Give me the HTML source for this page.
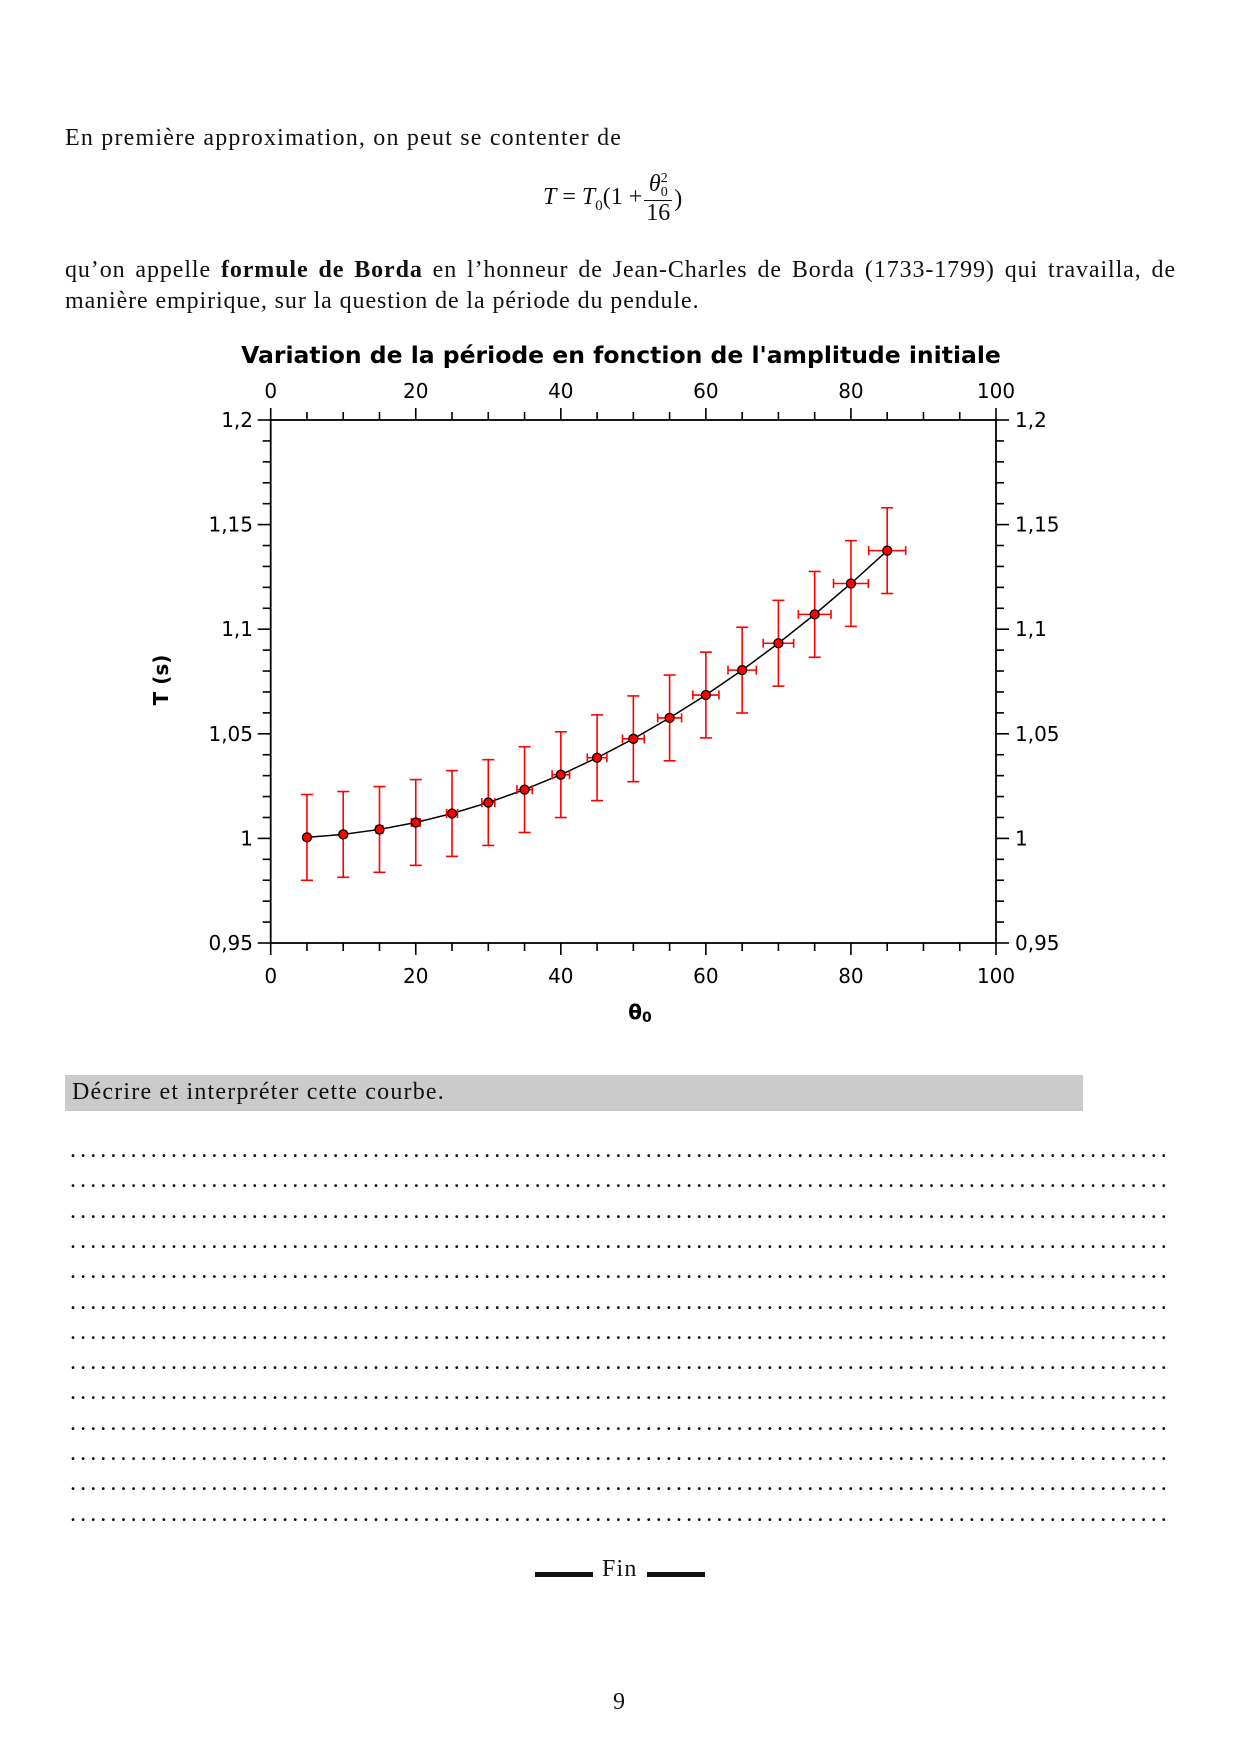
<!DOCTYPE html>
<html><head><meta charset="utf-8"><style>
body{margin:0;background:#fff;}
.p{position:absolute;font-family:"Liberation Serif",serif;font-size:24px;letter-spacing:1.2px;color:#111;}
</style></head><body>
<div style="position:relative;width:1241px;height:1756px;overflow:hidden;">
<div class="p" style="left:65px;top:125px;">En première approximation, on peut se contenter de</div>
<div class="p" style="left:543px;top:172px;display:flex;align-items:center;letter-spacing:0;">
<span><i>T</i> = <i>T</i><sub style="font-size:15px">0</sub>(1 + </span>
<span style="display:inline-flex;flex-direction:column;align-items:center;margin:0 2px;line-height:1.05;"><span><i>θ</i><span style="display:inline-flex;flex-direction:column;font-size:14px;line-height:1;vertical-align:top;"><span>2</span><span>0</span></span></span><span style="border-top:1px solid #111;padding:0 2px;">16</span></span>
<span>)</span></div>
<div class="p" style="left:65px;top:255px;width:1111px;line-height:31px;letter-spacing:0.9px;">
<div style="text-align:justify;text-align-last:justify;">qu’on appelle <b>formule de Borda</b> en l’honneur de Jean-Charles de Borda (1733-1799) qui travailla, de</div>
<div>manière empirique, sur la question de la période du pendule.</div></div>

<svg style="position:absolute;left:0;top:0" width="1241" height="1756" font-family="DejaVu Sans, sans-serif">
<text x="621" y="363" font-size="23.5" font-weight="bold" text-anchor="middle">Variation de la période en fonction de l'amplitude initiale</text>
<rect x="270.7" y="420" width="725.3" height="523" fill="none" stroke="#000" stroke-width="1.8"/>
<g id="ticks" stroke="#000" stroke-width="1.6"></g>
<g id="labels" font-size="20"></g>
<text x="640" y="1019" font-size="20" font-weight="bold" text-anchor="middle">θ<tspan font-size="14" dy="3">0</tspan></text>
<text transform="translate(168,680) rotate(-90)" font-size="20" font-weight="bold" text-anchor="middle">T (s)</text>
<g id="data"></g>
</svg>

<div style="position:absolute;left:65px;top:1075px;width:1018px;height:36px;background:#cbcbcb;"></div>
<div class="p" style="left:72px;top:1079px;">Décrire et interpréter cette courbe.</div>
<div id="dots"></div>
<div style="position:absolute;left:535px;top:1572px;width:58px;height:5px;background:#111;"></div>
<div class="p" style="left:602px;top:1556px;">Fin</div>
<div style="position:absolute;left:647px;top:1572px;width:58px;height:5px;background:#111;"></div>
<div class="p" style="left:613px;top:1689px;">9</div>
</div>
<script>
var X0=270.7,XS=7.253,Y0=943,YS=2092;
function px(x){return X0+x*XS}function py(y){return Y0-(y-0.95)*YS}
var t='',l='';
for(var x=0;x<=100;x+=5){var m=x%20==0,L=m?12:8,X=px(x);
t+=`<line x1="${X}" y1="420" x2="${X}" y2="${420-L}"/><line x1="${X}" y1="943" x2="${X}" y2="${943+L}"/>`;
if(m){l+=`<text x="${X}" y="398" text-anchor="middle">${x}</text><text x="${X}" y="983" text-anchor="middle">${x}</text>`;}}
for(var i=0;i<=25;i++){var y=0.95+i*0.01,m=i%5==0,L=m?13:8,Y=py(y);
t+=`<line x1="${X0}" y1="${Y}" x2="${X0-L}" y2="${Y}"/><line x1="996" y1="${Y}" x2="${996+L}" y2="${Y}"/>`;
if(m){var s=(Math.round(y*100)/100).toString().replace('.',',');l+=`<text x="253" y="${Y+7}" text-anchor="end">${s}</text><text x="1015" y="${Y+7}">${s}</text>`;}}
document.getElementById('ticks').innerHTML=t;document.getElementById('labels').innerHTML=l;
var d='',pts=[];
for(var a=5;a<=85;a+=5){var r=a*Math.PI/180,T=1+r*r/16;pts.push([px(a),py(T),a,T]);}
d+=`<polyline fill="none" stroke="#000" stroke-width="1.5" points="${pts.map(p=>p[0]+','+p[1]).join(' ')}"/>`;
pts.forEach(p=>{var X=p[0],Y=p[1],ey=0.0205*YS,ex=0.03*p[2]*XS;
d+=`<g stroke="red" stroke-width="1.6"><line x1="${X}" y1="${Y-ey}" x2="${X}" y2="${Y+ey}"/><line x1="${X-6}" y1="${Y-ey}" x2="${X+6}" y2="${Y-ey}"/><line x1="${X-6}" y1="${Y+ey}" x2="${X+6}" y2="${Y+ey}"/>`;
if(ex>2)d+=`<line x1="${X-ex}" y1="${Y}" x2="${X+ex}" y2="${Y}"/><line x1="${X-ex}" y1="${Y-4.5}" x2="${X-ex}" y2="${Y+4.5}"/><line x1="${X+ex}" y1="${Y-4.5}" x2="${X+ex}" y2="${Y+4.5}"/>`;
d+=`</g><circle cx="${X}" cy="${Y}" r="4.5" fill="red" stroke="#000" stroke-width="1.3"/>`;});
document.getElementById('data').innerHTML=d;
var h='';for(var k=0;k<13;k++){h+=`<div class="p" style="left:70px;top:${1137+k*30.3}px;width:1100px;overflow:hidden;white-space:nowrap;letter-spacing:4.1px;">${'.'.repeat(180)}</div>`;}
document.getElementById('dots').innerHTML=h;
</script>
</body></html>
